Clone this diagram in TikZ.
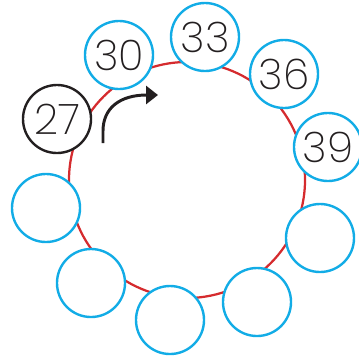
\documentclass[tikz,border=0pt]{standalone}
\usepackage{fontspec}
\setmainfont{Poppins ExtraLight}
\usetikzlibrary{arrows.meta}
\definecolor{ringred}{HTML}{D52B2E}
\definecolor{ballblue}{HTML}{12ACE6}
\definecolor{inkblack}{HTML}{231F20}

\begin{document}
\begin{tikzpicture}[
  x=0.025cm, y=-0.025cm,
  >={Triangle[length=0.3cm,width=0.45cm]},
  % Number balls
  ball/.style={
    circle, draw=ballblue, fill=white,
    minimum size=1.7cm, inner sep=0pt, line width=1.7pt,
    font=\fontsize{30}{30}\selectfont, text=inkblack
  },
  sball/.style={ball, draw=inkblack},
  % Ring and arrow
  ring/.style={draw=ringred, line width=1.6pt},
  turn/.style={->, draw=inkblack, line width=2.1pt},
]
\useasboundingbox (0,0) rectangle (359,358);

% -------------------------------------------------------
% RING
% -------------------------------------------------------
\draw[ring] (187,180) circle[radius=118];

% -------------------------------------------------------
% BALLS -- counting on in threes
% -------------------------------------------------------
\node[sball] (b27) at (57,119)  {27};
\node[ball]  (b30) at (119,55)  {30};
\node[ball]  (b33) at (205,37)  {33};
\node[ball]  (b36) at (284,74)  {36};
\node[ball]  (b39) at (328,147) {39};

% empty balls
\node[ball]  (e1) at (320,238) {};
\node[ball]  (e2) at (257,302) {};
\node[ball]  (e3) at (170,320) {};
\node[ball]  (e4) at (91,283)  {};
\node[ball]  (e5) at (46,208)  {};

% -------------------------------------------------------
% DIRECTION ARROW
% -------------------------------------------------------
\coordinate (as) at (103,143);
\coordinate (ae) at (158,95);
\draw[turn] (as) -- ++(0,-12) .. controls (103,108) and (120,95) .. (ae);

\end{tikzpicture}
\end{document}
